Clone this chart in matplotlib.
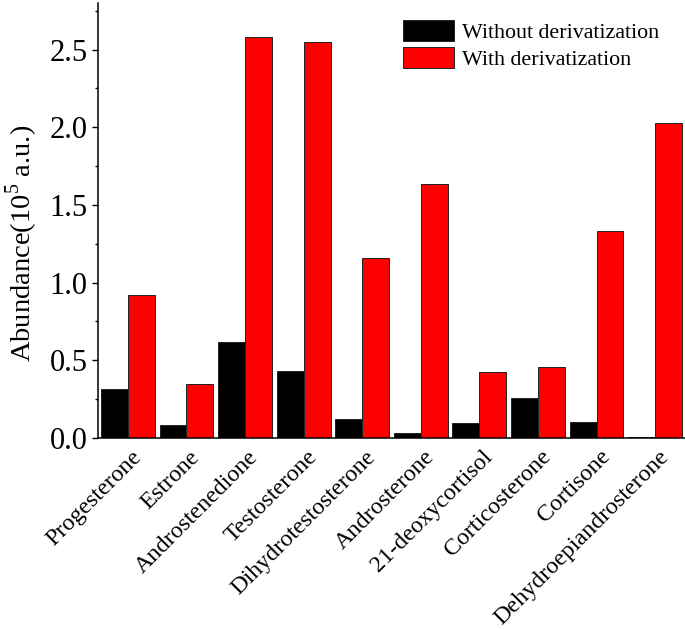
import numpy as np
import matplotlib
matplotlib.use("Agg")
import matplotlib.pyplot as plt
from matplotlib.ticker import MultipleLocator

plt.rcParams['font.family'] = ['Liberation Serif', 'DejaVu Serif']
plt.rcParams['mathtext.fontset'] = 'custom'
plt.rcParams['mathtext.rm'] = 'Liberation Serif'

# data
compounds = ['Progesterone', 'Estrone', 'Androstenedione', 'Testosterone',
             'Dihydrotestosterone', 'Androsterone', '21-deoxycortisol',
             'Corticosterone', 'Cortisone', 'Dehydroepiandrosterone']
without_deriv = [0.313, 0.083, 0.62, 0.43, 0.12, 0.03, 0.094, 0.255, 0.103, 0.008]
with_deriv = [0.92, 0.347, 2.58, 2.55, 1.157, 1.635, 0.424, 0.455, 1.335, 2.03]

x = np.arange(len(compounds))
w = 0.46

fig = plt.figure(figsize=(6.85, 6.29), dpi=100)
ax = fig.add_axes([98 / 685, 191 / 629, 587 / 685, 435 / 629])

ax.bar(x - w / 2, without_deriv, w, color='black', edgecolor='#222222',
       linewidth=0.7, label='Without derivatization')
ax.bar(x + w / 2, with_deriv, w, color='#ff0000', edgecolor='#222222',
       linewidth=0.7, label='With derivatization')

ax.set_xlim(-0.51, 9.51)
ax.set_ylim(0, 2.8)
ax.spines['top'].set_visible(False)
ax.spines['right'].set_visible(False)
ax.spines['left'].set_linewidth(1.1)
ax.spines['bottom'].set_linewidth(1.1)

ax.yaxis.set_major_locator(MultipleLocator(0.5))
ax.yaxis.set_minor_locator(MultipleLocator(0.25))
ax.tick_params(axis='y', which='major', length=4.5, width=1.0, pad=3, labelsize=22)
ax.tick_params(axis='y', which='minor', length=2.5, width=1.0)
ax.set_yticklabels([f'{v:.1f}' for v in ax.get_yticks()])

# labels end a little right of the group centre, as in the reference
ax.set_xticks(x + 0.3)
ax.set_xticklabels(compounds, rotation=45, ha='right', fontsize=17.3)
ax.tick_params(axis='x', length=0, pad=6)

ax.set_ylabel(r'Abundance(10$^{\mathrm{5}}$ a.u.)', fontsize=20.5)
ax.yaxis.set_label_coords(-0.098, 0.448)

ax.legend(loc='upper left', bbox_to_anchor=(0.52, 0.96), frameon=False,
          fontsize=15.8, handlelength=2.3, handleheight=1.1,
          labelspacing=0.18, handletextpad=0.36, borderpad=0, borderaxespad=0)

fig.savefig('out.png', dpi=100)
